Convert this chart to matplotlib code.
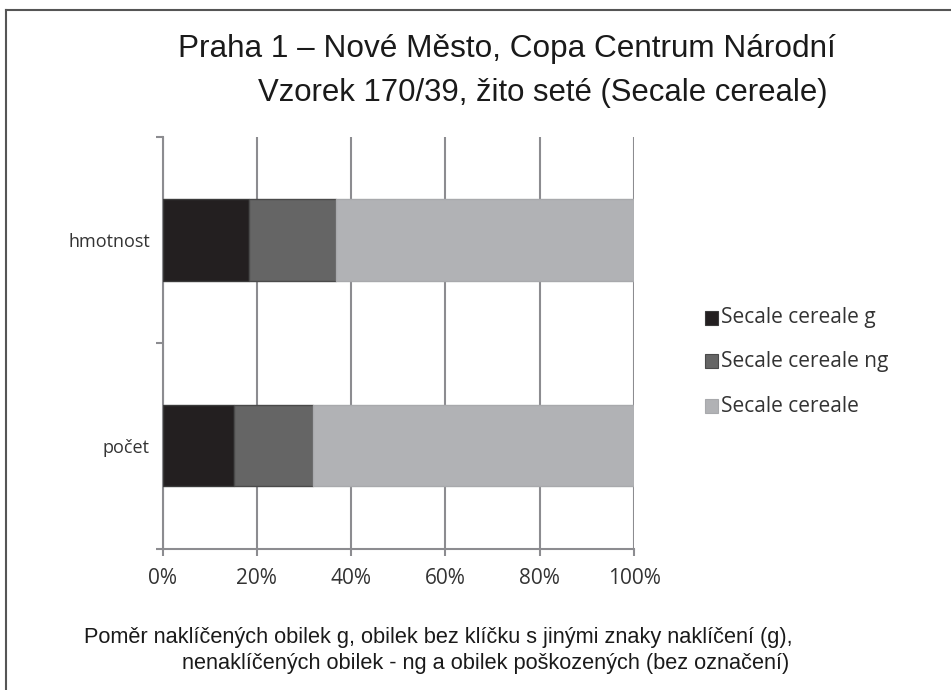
import matplotlib
matplotlib.use("Agg")
import matplotlib.pyplot as plt
from matplotlib.lines import Line2D
from matplotlib.patches import Rectangle

categories = ["hmotnost", "počet"]
series_names = ["Secale cereale g", "Secale cereale ng", "Secale cereale"]
g_vals = [18.3, 15.1]
ng_vals = [18.4, 16.8]
rest_vals = [63.3, 68.1]
xticks = [0, 20, 40, 60, 80, 100]
xtick_labels = ["0%", "20%", "40%", "60%", "80%", "100%"]

colors = ["#231f20", "#656565", "#b1b2b5"]
edges = ["#3a3a3a", "#4a4a4a", "#a8a9ac"]
grid_c = "#8c8c90"
tfont = "Open Sans"

W, H = 951, 690
fig = plt.figure(figsize=(W / 100, H / 100), dpi=100)
fig.patch.set_facecolor("white")

# outer frame (top + left)
fig.add_artist(Line2D([6 / W, 1.0], [1 - 10 / H, 1 - 10 / H], color="#555555", lw=1.5))
fig.add_artist(Line2D([6 / W, 6 / W], [0, 1 - 10 / H], color="#555555", lw=1.5))

x0, x1, y0, y1 = 162.5, 634, 137, 548.5
ax = fig.add_axes([x0 / W, 1 - y1 / H, (x1 - x0) / W, (y1 - y0) / H])

pos = list(range(len(categories)))
left = [0] * len(categories)
for vals, c, e, name in zip([g_vals, ng_vals, rest_vals], colors, edges, series_names):
    ax.barh(pos, vals, left=left, height=0.395, color=c, edgecolor=e, linewidth=1.0,
            label=name, zorder=3)
    left = [l + v for l, v in zip(left, vals)]

ax.set_xlim(0, 100)
ax.set_ylim(len(categories) - 0.5, -0.5)

ax.set_xticks(xticks)
ax.set_xticklabels(xtick_labels, fontsize=15, family=tfont, color="#333333")
ax.xaxis.grid(True, color=grid_c, linewidth=1.5, zorder=0)
ax.tick_params(axis="x", length=5, width=1.5, color=grid_c, pad=9)

ax.set_yticks([-0.5, 0.5, 1.5])
ax.set_yticklabels(["", "", ""])
ax.tick_params(axis="y", which="major", length=5, width=1.5, color=grid_c)
ax.set_yticks(pos, minor=True)
ax.set_yticklabels(categories, minor=True, fontsize=13, family=tfont, color="#333333")
ax.tick_params(axis="y", which="minor", length=0, pad=9)

for s in ["top", "right"]:
    ax.spines[s].set_visible(False)
for s in ["left", "bottom"]:
    ax.spines[s].set_color(grid_c)
    ax.spines[s].set_linewidth(1.5)

# legend drawn manually as proxies
leg_rows = [318, 361, 406]
for name, c, e, yy in zip(series_names, colors, edges, leg_rows):
    fig.add_artist(Rectangle((705 / W, 1 - (yy + 7) / H), 13 / W, 14 / H,
                             facecolor=c, edgecolor=e, lw=0.8, transform=fig.transFigure))
    fig.text(721 / W, 1 - yy / H, name, fontsize=15, family=tfont,
             color="#333333", va="center", ha="left")

# titles
fig.text(178 / W, 1 - 49 / H, "Praha 1 – Nové Město, Copa Centrum Národní",
         fontsize=22.7, family="Liberation Sans", color="#1a1a1a", va="center", ha="left")
fig.text(258 / W, 1 - 93 / H, "Vzorek 170/39, žito seté (Secale cereale)",
         fontsize=22.4, family="Liberation Sans", color="#1a1a1a", va="center", ha="left")

fig.text(84 / W, 1 - 638 / H,
         "Poměr naklíčených obilek g, obilek bez klíčku s jinými znaky naklíčení (g),",
         fontsize=15.7, family="Liberation Sans", color="#1a1a1a", va="center", ha="left")
fig.text(182 / W, 1 - 664 / H,
         "nenaklíčených obilek - ng a obilek poškozených (bez označení)",
         fontsize=15.7, family="Liberation Sans", color="#1a1a1a", va="center", ha="left")

fig.savefig("out.png", dpi=100)
